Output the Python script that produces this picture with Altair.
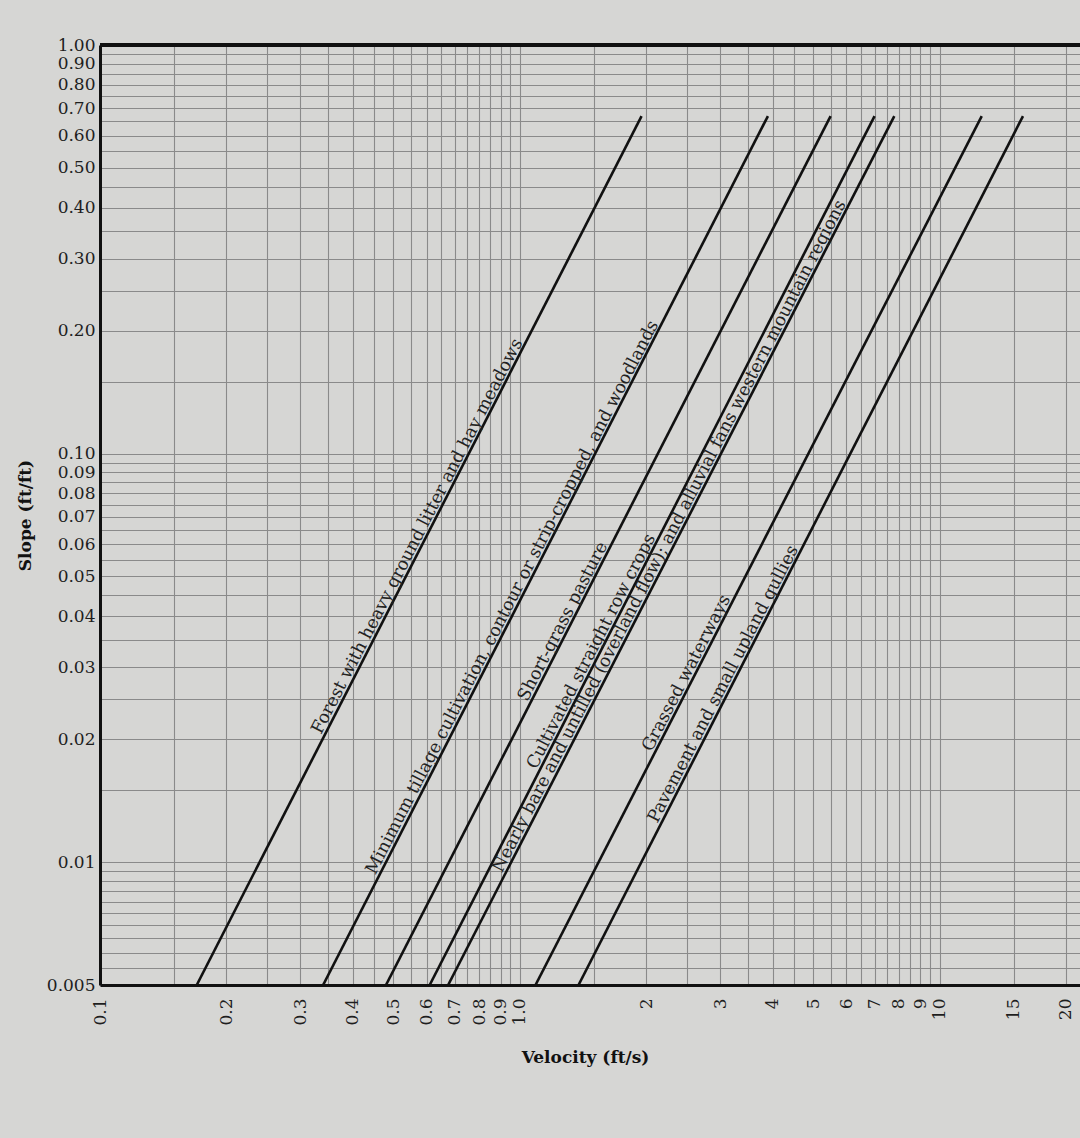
import math
import altair as alt
import pandas as pd

# ---- data ----
line_names = [
    "Forest with heavy ground litter and hay meadows",
    "Minimum tillage cultivation, contour or strip-cropped, and woodlands",
    "Short-grass pasture",
    "Cultivated straight row crops",
    "Nearly bare and untilled (overland flow); and alluvial fans western mountain regions",
    "Grassed waterways",
    "Pavement and small upland gullies",
]
slope_bottom = 0.005
slope_top = 0.67
vel_bottom = [0.17, 0.34, 0.48, 0.61, 0.675, 1.09, 1.38]
vel_top = [1.95, 3.9, 5.5, 7.0, 7.8, 12.6, 15.8]
label_slope = [0.0614, 0.0435, 0.038, 0.0321, 0.0614, 0.0284, 0.0267]

# axis grid / tick values
x_grid = ([round(0.1 + 0.05 * i, 2) for i in range(19)]
          + [round(1.5 + 0.5 * i, 1) for i in range(18)] + [15, 20])
x_label_vals = [0.1, 0.2, 0.3, 0.4, 0.5, 0.6, 0.7, 0.8, 0.9, 1.0,
                2, 3, 4, 5, 6, 7, 8, 9, 10, 15, 20]
x_label_txt = ["0.1", "0.2", "0.3", "0.4", "0.5", "0.6", "0.7", "0.8", "0.9", "1.0",
               "2", "3", "4", "5", "6", "7", "8", "9", "10", "15", "20"]

y_grid = ([round(0.005 + 0.0005 * i, 4) for i in range(10)]
          + [round(0.01 + 0.005 * i, 3) for i in range(18)]
          + [round(0.1 + 0.05 * i, 2) for i in range(19)])
y_label_vals = [0.005, 0.01, 0.02, 0.03, 0.04, 0.05, 0.06, 0.07, 0.08, 0.09, 0.1,
                0.2, 0.3, 0.4, 0.5, 0.6, 0.7, 0.8, 0.9, 1.0]
y_label_txt = ["0.005", "0.01", "0.02", "0.03", "0.04", "0.05", "0.06", "0.07", "0.08",
               "0.09", "0.10", "0.20", "0.30", "0.40", "0.50", "0.60", "0.70", "0.80",
               "0.90", "1.00"]

# ---- tables ----
rows = []
for n, vb, vt in zip(line_names, vel_bottom, vel_top):
    rows.append({"name": n, "v": vb, "s": slope_bottom})
    rows.append({"name": n, "v": vt, "s": slope_top})
lines_df = pd.DataFrame(rows)

# label anchors placed on their own line (position along the line only)
lab_rows = []
for n, vb, vt, s in zip(line_names, vel_bottom, vel_top, label_slope):
    t = (math.log10(s) - math.log10(slope_bottom)) / (math.log10(slope_top) - math.log10(slope_bottom))
    v = 10 ** (math.log10(vb) + t * (math.log10(vt) - math.log10(vb)))
    lab_rows.append({"name": n, "v": v, "s": s})
labels_df = pd.DataFrame(lab_rows)


def js_list(vals):
    return "[" + ",".join(repr(v) if not isinstance(v, str) else "'" + v + "'" for v in vals) + "]"


x_expr = (f"indexof({js_list(x_label_vals)}, datum.value) < 0 ? '' : "
          f"{js_list(x_label_txt)}[indexof({js_list(x_label_vals)}, datum.value)]")
y_expr = (f"indexof({js_list(y_label_vals)}, datum.value) < 0 ? '' : "
          f"{js_list(y_label_txt)}[indexof({js_list(y_label_vals)}, datum.value)]")

W, H = 980, 940
FONT = "DejaVu Serif"

x_scale = alt.Scale(type="log", domain=[0.1, 21.6], nice=False)
y_scale = alt.Scale(type="log", domain=[0.005, 1.0], nice=False)

x_axis = alt.Axis(values=x_grid, labelExpr=x_expr, labelAngle=270, labelFont=FONT,
                  labelFontSize=17, labelColor="#1e1e1e", labelPadding=13, labelOverlap=False,
                  labelFlush=False, ticks=False, grid=True, gridColor="#8a8a8a", gridWidth=1.1,
                  domainColor="#111", domainWidth=3, title="Velocity (ft/s)",
                  titleFont=FONT, titleFontSize=17, titleFontWeight="bold", titleColor="#111",
                  titleX=485, titleY=72, titleBaseline="middle", titleAnchor="middle")
y_axis = alt.Axis(values=y_grid, labelExpr=y_expr, labelFont=FONT, labelFontSize=17,
                  labelColor="#1e1e1e", labelPadding=5, labelOverlap=False, labelFlush=False,
                  ticks=False, grid=True, gridColor="#8a8a8a", gridWidth=1.1,
                  domainColor="#111", domainWidth=3, title="Slope (ft/ft)",
                  titleFont=FONT, titleFontSize=17, titleFontWeight="bold", titleColor="#111",
                  titleX=-75, titleY=470, titleBaseline="middle", titleAngle=270,
                  titleAnchor="middle")

lines = alt.Chart(lines_df).mark_line(color="#111", strokeWidth=2.6, clip=True).encode(
    x=alt.X("v:Q", scale=x_scale, axis=x_axis),
    y=alt.Y("s:Q", scale=y_scale, axis=y_axis),
    detail="name:N",
)

texts = alt.Chart(labels_df).mark_text(
    font=FONT, fontSize=17.5, color="#222", angle=297.2, align="center",
    baseline="alphabetic", dy=-3,
).encode(
    x=alt.X("v:Q", scale=x_scale),
    y=alt.Y("s:Q", scale=y_scale),
    text="name:N",
)

top_border = alt.Chart(lines_df).mark_rule(color="#111", strokeWidth=3).encode(
    x=alt.value(0), x2=alt.value(W), y=alt.value(0)
)

chart = alt.layer(lines, texts, top_border).properties(
    width=W, height=H,
    autosize=alt.AutoSizeParams(type="none"),
    padding={"left": 100, "top": 45, "right": 0, "bottom": 153},
    background="#d6d6d4",
).configure_view(stroke=None)

chart.save("out.html", embed_options={"renderer": "svg", "actions": False})
